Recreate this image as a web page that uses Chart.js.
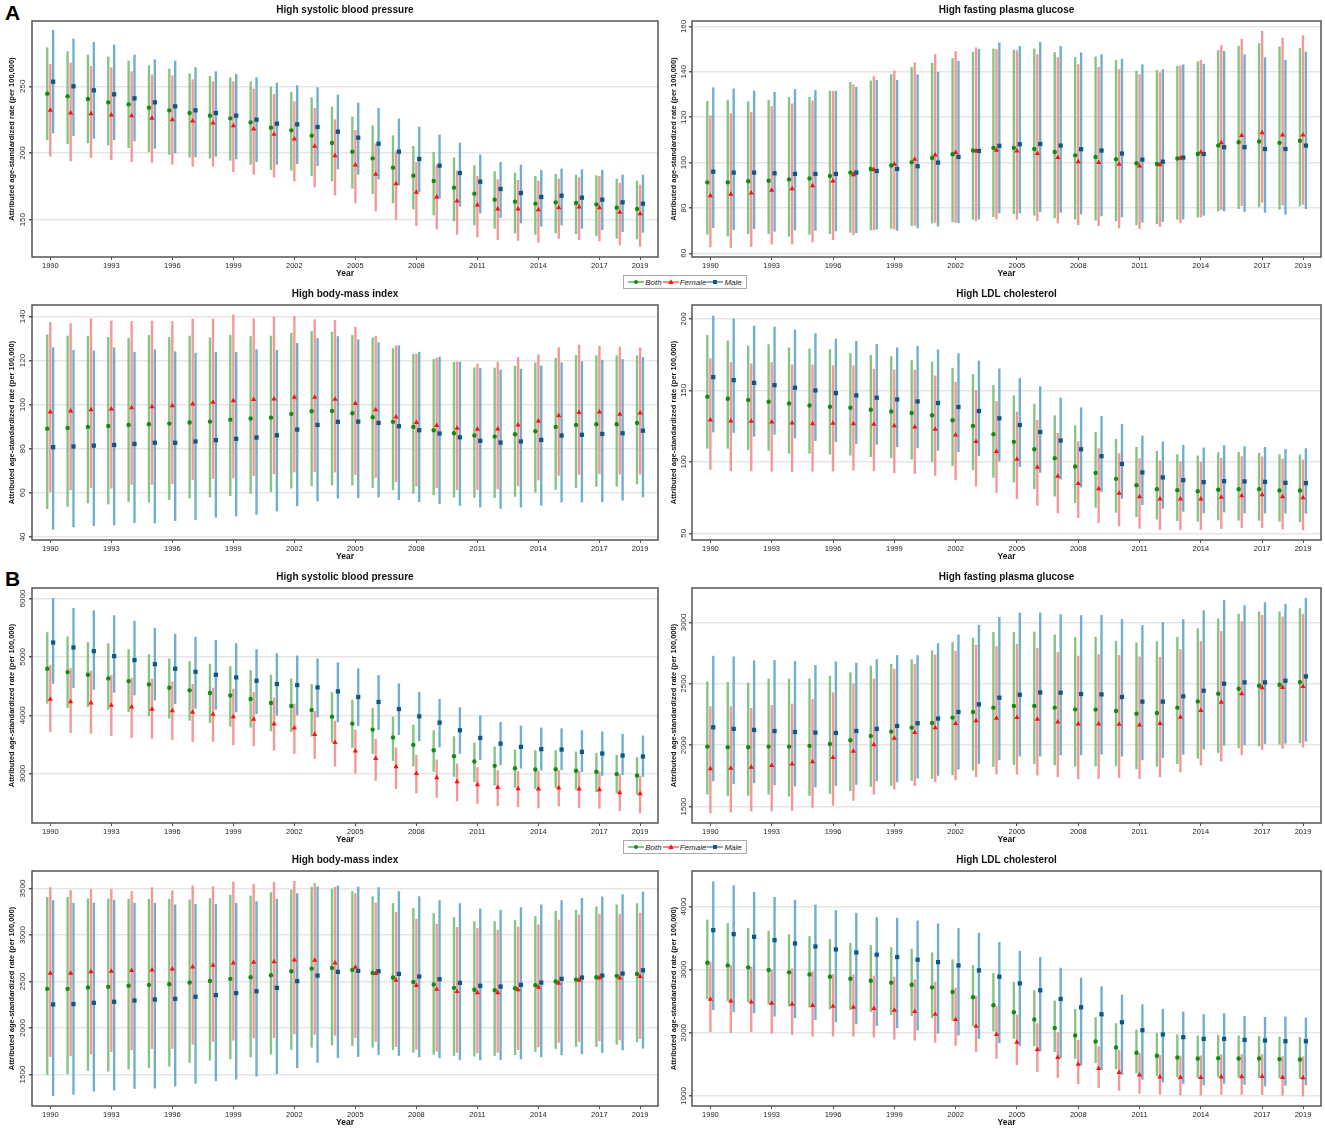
<!DOCTYPE html>
<html>
<head>
<meta charset="utf-8">
<title>Attributed age-standardized rates, 1990-2019</title>
<script src="https://cdn.jsdelivr.net/npm/chart.js@4.4.1/dist/chart.umd.min.js"></script>
<style>
  body { margin: 0; background: #fff; width: 1325px; height: 1133px; position: relative; overflow: hidden;
         font-family: 'Liberation Sans', Arial, sans-serif; }
  .panel { position: absolute; }
  .tag { position: absolute; left: 5px; font-weight: bold; font-size: 21px; line-height: 21px; color: #000; }
  .legend { position: absolute; left: 623px; width: 122px; height: 12px; border: 1px solid #aaa; background: #fff;
            z-index: 5; font-size: 8px; font-style: italic; color: #222; display: flex; align-items: center;
            justify-content: center; gap: 1px; }
  .legend svg { display: block; }
</style>
</head>
<body>

<div class="tag" style="top:2px">A</div>
<div class="tag" style="top:568px">B</div>

<script>
const years = [1990, 1991, 1992, 1993, 1994, 1995, 1996, 1997, 1998, 1999, 2000, 2001, 2002, 2003, 2004,
               2005, 2006, 2007, 2008, 2009, 2010, 2011, 2012, 2013, 2014, 2015, 2016, 2017, 2018, 2019];
const xTickYears = [1990, 1993, 1996, 1999, 2002, 2005, 2008, 2011, 2014, 2017, 2019];

// ---- A: high systolic blood pressure
const aSbpTicks = [150, 200, 250];
const aSbpBoth = [244.5,242.5,240.5,238,236.5,234,232,230,228,226,223,219,217,213,207.5,201,196,189,183,179,174,169.5,165,163.5,162,163,162.5,161.5,159,158];
const aSbpBothLo = [210,207,207.5,206,204,201,199,197,196,194.5,191.5,187.5,187,183,179,173.5,169.5,162.5,158,153.5,149,146,143.5,140,139,140,139.5,138,136,135.5];
const aSbpBothHi = [279,276,273.5,272,269,265.5,263,259.5,257.5,256.5,253.5,249.5,245.5,241.5,234.5,227,220.5,213,205,200.5,196.5,190.5,186,185,182.5,184,183.5,183,180.5,179];
const aSbpFemale = [232,230,229.5,228.5,228,226,225,224,222.5,220.5,218,214,210.5,205,198,191,184,177,170.5,167,164,161,158,158,157.5,159,159.5,159,155.5,154.5];
const aSbpFemaleLo = [197.5,194,196.5,195,193.5,193,191.5,190,190,186,184,182,179,174.5,168.5,162.5,156.5,150,145.5,143,139,137,135,134.5,133,136,135,134,131,130];
const aSbpFemaleHi = [266.5,267.5,265,264,261,258.5,258,255,253.5,253.5,248,244,238.5,233.5,225,217,207,201,193,191,186.5,182.5,180,179.5,179,180.5,181.5,182.5,177.5,176];
const aSbpMale = [253.5,250,247,244,241,238,235,232,230,228,225,222,221.5,219.5,216,211.5,207,201,195.5,190.5,185,178.5,173,170,167,168,166.5,165,163,162];
const aSbpMaleLo = [215,213,211,210,209,203.5,200,197,197.5,195.5,193.5,191.5,192,190.5,188,184,180.5,176,171,166,160,155,151.5,147.5,145,146,143.5,142.5,141,140.5];
const aSbpMaleHi = [292,285.5,283,281,273.5,270,269,264,261,259,256.5,252.5,250.5,249,243.5,237.5,233.5,225.5,219.5,213.5,207.5,198.5,193,191,187,188,187.5,187,183.5,183.5];

// ---- A: high fasting plasma glucose
const aFpgTicks = [60, 80, 100, 120, 140, 160];
const aFpgBoth = [91.3,91.3,91.8,92,92.6,93,94.1,95.6,97.2,98.7,100.1,102,103.7,105.3,106.5,106.5,106,104.7,103.2,102.5,101.5,99.7,99.4,101.8,103.8,107.5,109,109.3,108.7,109.6];
const aFpgBothLo = [68.4,67.6,68.7,68.7,67.5,68.4,68.7,69.3,70.3,71,72.2,73.4,73.8,75,76.2,77.5,76.8,75.6,75.1,74.6,74.3,72.6,73.1,75,76,78.7,79.7,80.4,79.4,80.9];
const aFpgBothHi = [127,127.5,126.8,127.5,128.7,128.8,131.5,135.4,136,138.8,142,143.8,145.9,148.7,150.1,149.6,150.1,148.5,146.3,146.6,145,140.3,140.6,142.5,144.4,149.4,151.3,152.5,151,150.3];
const aFpgFemale = [85.4,86,86.6,87.8,88.5,89.8,91.9,94.6,96.9,99.3,101.5,103.4,104.4,105.1,105.4,105.1,104,102.2,100.4,100,99.3,98.5,99,101.9,104.6,108.7,111.9,113.2,112.2,112.2];
const aFpgFemaleLo = [62.8,62.6,63,64.1,64.1,65,66,68.2,70.3,70.7,72.4,73.7,73.7,74.4,75.1,75,74.4,73.4,72.6,72.2,71.2,70.9,71.8,73.5,76,79.3,81,82.5,81.3,81.6];
const aFpgFemaleHi = [120.7,121.6,122.2,124.7,125.9,127.2,131.5,134.3,137.9,140.4,144,147.6,149,150.6,149.9,149.3,147.6,146.3,143.2,142,141,138.8,139.6,142.6,145.1,151.6,154.4,157.9,154.9,155.9];
const aFpgMale = [96,95.6,95.6,95.3,95,95,95,95.6,96.3,97.2,98.4,100,102.5,105.1,107.4,108.1,108.2,107.5,105.9,105.3,104,101.3,100.4,102.2,103.8,106.8,106.8,106,106,107.5];
const aFpgMaleLo = [71.3,70.4,70.9,69.7,70.3,70.1,69.9,69.1,70.7,70.1,71.2,72,73.5,75.1,77.8,77.8,78.4,78.1,77.4,76.5,76,73.7,74,75.1,76.8,78.7,78.4,78.1,77.2,79.7];
const aFpgMaleHi = [133,132.5,131.6,131,132.2,131.8,131.5,133.2,136.2,136.3,138.7,139.9,144.7,149.9,152.8,151.2,153,151.2,148.4,147.6,145.6,143.1,141,143.1,143.4,149,147.6,146.3,145.1,148.7];

// ---- A: high body-mass index
const aBmiTicks = [40, 60, 80, 100, 120, 140];
const aBmiBoth = [89.1,89.4,89.9,90.3,90.8,91.1,91.4,91.9,92.3,93.2,93.7,94.1,95.8,97,97.1,96.1,94.3,92.2,89.9,88.4,87,86,85.5,86.6,87.9,89.9,90.8,91.1,91.1,91.7];
const aBmiBothLo = [52.8,53.8,55.4,54.9,56.1,55.8,56.9,57.6,58.1,58.7,59.7,60.5,62.1,63.2,63.6,63.5,62.4,61.4,59.7,59.1,58.1,57.9,57.8,58.4,60.3,61.5,62.4,62.9,63,64];
const aBmiBothHi = [131.7,131.1,131.1,130.5,130.2,131.4,130.5,131.1,130.3,131.5,130.9,131.1,132.4,133.2,132.9,131.4,130.3,125.5,122.9,120.5,119.2,116.7,116.6,117.5,119,121,122.3,122.2,122.2,122.2];
const aBmiFemale = [96.7,97.1,97.7,98,98.6,99.1,99.5,100.3,101.1,101.8,102.3,102.6,103.3,103.3,102.4,100.5,97.7,94.4,91.9,90.5,89.3,88.8,89,90.8,92.6,95,96.4,96.7,95.6,96.2];
const aBmiFemaleLo = [60.5,61.4,62.4,62,63.8,63.8,64.1,65.9,66.5,66.8,67.7,68.6,69.4,69.5,69.4,68.3,67,65,63,62.4,61.4,61.4,61.8,63.2,65.8,67.9,68.3,68.6,68.5,68.5];
const aBmiFemaleHi = [137.3,136.8,138.9,138,137.7,137.9,137.7,138.8,138.8,140.7,138.9,139.8,140,138.5,138.2,135.1,131.1,126.7,122.9,121.1,119.3,118.4,119.3,121.4,122.6,125.9,127,126.5,126.2,125.8];
const aBmiMale = [80.7,81,81.4,81.7,82.2,82.7,82.7,83.3,83.9,84.5,85.1,86.1,88.7,90.8,92.2,92.3,91.7,90.2,88.4,86.9,85.2,83.6,82.8,83.3,84,86,86.3,86.7,87,88.2];
const aBmiMaleLo = [43.4,44.5,45.1,45.4,46.5,46.3,47.4,47.8,48.9,49.5,50.2,51.7,54.1,56.3,57.6,57.8,58.1,56.9,56,55.1,54.3,53.5,52.9,53.5,54.3,55.8,55.8,56,56.7,58.1];
const aBmiMaleHi = [125.9,124.6,124.4,125.8,123.8,125,124,123.4,123.7,123.7,125,124.7,127.8,130,130.9,129.4,128.2,126.7,123.8,121.6,119.3,116.4,115.7,116.1,117.5,119,119.5,120.2,120.5,121.4];

// ---- A: high LDL cholesterol
const aLdlTicks = [50, 100, 150, 200];
const aLdlBoth = [145.6,144.2,143.3,142.1,140.9,139.5,138.6,137.9,136.5,135.3,134.2,132.6,129.1,125.1,119.3,114,108.8,102.6,96.7,92.3,88.1,83.7,80.9,80.2,79.5,80.5,80.9,80.9,80,80];
const aLdlBothLo = [109.5,109.5,108.6,108.1,106,106,105.3,104.7,103.7,102.8,101.9,100,97.2,94.4,89.1,85.8,81.2,76,71.4,68.1,64.7,61.6,59.8,58.8,58.4,59.3,59.1,59.1,58.4,58.1];
const aLdlBothHi = [188.6,184.7,181.2,182.1,179.8,179.1,178.6,176,174.6,173.7,170.9,170,165.6,161.2,153.5,146.3,140.5,132.3,125.3,120.7,115.8,110.2,107.4,105.1,104.2,106.5,106.7,106,105.1,104.9];
const aLdlFemale = [129.3,128.6,128.4,127.9,127.2,126.7,127,126.7,126.3,125.3,124.4,122.8,118.8,114.2,107.2,101.9,96.3,90,84.9,81.2,78.1,75.6,74,74,74,75.3,76.3,77,75.6,74.9];
const aLdlFemaleLo = [94.7,93.7,93.7,93.5,93,93.5,93.5,94.2,93.7,92.3,91.9,90.5,87.4,83,78.6,74.2,69.5,64.2,60.9,57.4,55.1,53.5,52.6,52.3,52.6,53.3,54,54,53,52.3];
const aLdlFemaleHi = [172.3,169.5,168.6,169.5,167.9,167.9,167.2,167.2,164.9,164.4,164.2,160.2,155.8,150,142.3,134.9,129.1,120,114.2,109.3,105.8,102.3,100.7,100,99.8,102.6,103.7,103.5,102.1,101.4];
const aLdlMale = [159.3,157.2,155.3,153.7,151.9,150,148.1,146.5,144.9,143.7,142.3,141.2,138.4,135.6,130.5,125.8,120.9,114.9,108.8,104,98.6,92.6,89.1,87.2,85.8,86.5,86.3,86,85.3,85.1];
const aLdlMaleLo = [120.9,120.5,117.9,119.3,116.7,114.9,114.2,112.8,112.3,110.5,109.8,108.1,107,104.2,100.5,96.7,92.6,87.9,82.3,79.3,74.4,70,67.4,65.3,64.2,64.9,64.2,64.2,64.2,64];
const aLdlMaleHi = [202.1,200,195.1,194.4,192.3,189.8,186,184.4,182.3,179.8,180.9,178.4,175.8,170.7,165.1,158.4,152.6,144.7,137.9,131.9,126.3,118.1,114,111.6,109.8,111.4,110.7,110.2,108.8,109.3];

// ---- B: high systolic blood pressure
const bSbpTicks = [3000, 4000, 5000, 6000];
const bSbpBoth = [4797,4740,4694,4632,4586,4529,4472,4427,4381,4341,4279,4211,4159,4091,3977,3858,3755,3619,3494,3403,3300,3209,3135,3095,3073,3078,3050,3033,2993,2970];
const bSbpBothLo = [4205,4131,4148,4100,4063,3989,3949,3915,3875,3812,3795,3733,3721,3642,3539,3448,3346,3226,3129,3038,2953,2862,2805,2765,2743,2760,2731,2691,2669,2646];
const bSbpBothHi = [5417,5343,5246,5229,5127,5041,4967,4922,4876,4836,4768,4688,4626,4529,4393,4262,4120,3972,3835,3738,3636,3528,3460,3408,3397,3397,3374,3351,3317,3277];
const bSbpFemale = [4273,4233,4211,4171,4142,4102,4080,4051,4017,3977,3932,3852,3784,3670,3533,3391,3260,3118,3004,2930,2862,2811,2765,2743,2737,2754,2737,2725,2674,2657];
const bSbpFemaleLo = [3721,3704,3693,3653,3619,3607,3585,3551,3551,3494,3477,3403,3346,3260,3129,3004,2885,2743,2669,2595,2532,2492,2452,2430,2413,2447,2418,2407,2367,2327];
const bSbpFemaleHi = [4859,4802,4757,4688,4637,4620,4575,4529,4467,4450,4393,4296,4193,4068,3903,3750,3591,3443,3317,3238,3169,3107,3055,3038,3044,3055,3044,3033,2987,2959];
const bSbpMale = [5246,5161,5098,5013,4945,4876,4797,4745,4694,4649,4592,4535,4518,4478,4410,4313,4228,4108,3983,3875,3744,3613,3516,3459,3420,3414,3374,3346,3312,3294];
const bSbpMaleLo = [4546,4472,4444,4393,4347,4262,4199,4119,4102,4057,4028,4000,4006,3972,3886,3824,3755,3670,3562,3460,3346,3243,3152,3095,3061,3067,3033,2970,2982,2953];
const bSbpMaleHi = [6003,5832,5792,5707,5610,5491,5388,5337,5286,5229,5127,5058,5018,4967,4899,4797,4683,4541,4393,4273,4131,3994,3881,3818,3784,3772,3738,3716,3676,3647];

// ---- B: high fasting plasma glucose
const bFpgTicks = [1500, 2000, 2500, 3000];
const bFpgBoth = [1989,1984,1984,1989,1989,1995,2011,2041,2076,2111,2143,2181,2225,2271,2306,2319,2319,2306,2292,2290,2279,2257,2263,2306,2357,2420,2460,2485,2493,2514];
const bFpgBothLo = [1602,1591,1591,1602,1586,1591,1607,1629,1664,1672,1713,1729,1759,1797,1827,1843,1851,1840,1829,1832,1832,1808,1829,1851,1894,1940,1978,1995,2008,2019];
const bFpgBothHi = [2517,2512,2506,2539,2539,2541,2563,2590,2644,2660,2696,2769,2836,2872,2920,2918,2923,2899,2877,2880,2847,2834,2842,2880,2950,3029,3067,3086,3086,3113];
const bFpgFemale = [1808,1813,1821,1835,1848,1865,1900,1951,2005,2057,2103,2143,2176,2200,2219,2225,2211,2189,2173,2173,2171,2165,2176,2227,2282,2349,2420,2468,2471,2479];
const bFpgFemaleLo = [1448,1456,1464,1464,1469,1494,1510,1551,1602,1643,1672,1702,1718,1743,1764,1764,1756,1743,1727,1729,1737,1727,1743,1783,1838,1870,1924,1965,1973,1984];
const bFpgFemaleHi = [2314,2314,2300,2325,2336,2374,2428,2501,2539,2620,2660,2736,2766,2815,2804,2823,2790,2755,2726,2739,2731,2720,2717,2780,2845,2926,3007,3058,3045,3067];
const bFpgMale = [2146,2133,2125,2116,2108,2103,2100,2116,2133,2157,2179,2217,2271,2333,2387,2411,2430,2428,2417,2414,2393,2355,2355,2398,2444,2501,2512,2512,2525,2560];
const bFpgMaleLo = [1710,1686,1694,1678,1667,1659,1672,1681,1710,1702,1732,1754,1805,1851,1881,1911,1911,1921,1921,1927,1911,1881,1900,1927,1968,2000,2003,2014,2016,2032];
const bFpgMaleHi = [2725,2720,2688,2690,2682,2650,2679,2669,2698,2731,2731,2828,2899,2977,3042,3077,3077,3064,3056,3058,3023,2975,2999,3023,3096,3178,3137,3161,3148,3197];

// ---- B: high body-mass index
const bBmiTicks = [1500, 2000, 2500, 3000, 3500];
const bBmiBoth = [2421,2421,2436,2443,2454,2464,2471,2489,2507,2529,2546,2568,2611,2639,2646,2625,2593,2543,2496,2468,2432,2411,2407,2429,2461,2500,2521,2546,2561,2582];
const bBmiBothLo = [1500,1507,1543,1536,1557,1575,1589,1629,1654,1668,1689,1718,1768,1793,1818,1811,1793,1768,1739,1718,1704,1696,1704,1714,1746,1779,1800,1800,1825,1850];
const bBmiBothHi = [3407,3407,3389,3389,3386,3386,3386,3379,3393,3429,3421,3457,3486,3514,3496,3468,3414,3339,3289,3232,3189,3146,3146,3157,3200,3257,3268,3304,3325,3339];
const bBmiFemale = [2589,2589,2604,2611,2618,2625,2636,2657,2675,2700,2707,2714,2732,2729,2700,2654,2586,2514,2457,2418,2393,2379,2379,2411,2439,2482,2514,2539,2539,2554];
const bBmiFemaleLo = [1693,1700,1721,1746,1764,1779,1779,1825,1854,1868,1893,1896,1936,1932,1921,1896,1857,1800,1771,1750,1739,1732,1739,1768,1796,1846,1854,1861,1871,1886];
const bBmiFemaleHi = [3511,3479,3493,3493,3471,3511,3475,3529,3521,3571,3546,3568,3579,3557,3514,3446,3343,3243,3171,3118,3082,3071,3054,3086,3111,3161,3218,3225,3225,3236];
const bBmiMale = [2254,2257,2271,2282,2296,2307,2314,2336,2354,2375,2396,2432,2504,2564,2604,2614,2611,2582,2554,2525,2486,2454,2446,2464,2489,2529,2543,2564,2586,2621];
const bBmiMaleLo = [1272,1286,1321,1332,1350,1354,1375,1404,1432,1450,1482,1507,1571,1629,1682,1693,1711,1704,1689,1679,1661,1657,1661,1668,1689,1711,1721,1736,1764,1782];
const bBmiMaleHi = [3371,3343,3343,3375,3343,3343,3325,3332,3332,3343,3361,3386,3446,3518,3529,3518,3511,3468,3414,3371,3339,3282,3268,3296,3325,3371,3396,3411,3436,3464];

// ---- B: high LDL cholesterol
const bLdlTicks = [1000, 2000, 3000, 4000];
const bLdlBoth = [3111,3068,3037,2995,2958,2926,2889,2858,2826,2795,2763,2721,2647,2563,2437,2326,2211,2079,1958,1863,1768,1684,1637,1611,1595,1600,1595,1595,1584,1579];
const bLdlBothLo = [2537,2511,2489,2453,2421,2405,2379,2368,2337,2289,2274,2237,2195,2111,2026,1911,1795,1700,1595,1526,1432,1363,1321,1300,1289,1300,1295,1289,1284,1279];
const bLdlBothHi = [3789,3732,3653,3611,3558,3526,3479,3421,3384,3353,3326,3268,3158,3068,2942,2805,2668,2505,2374,2242,2147,2047,1995,1968,1953,1963,1953,1947,1937,1926];
const bLdlFemale = [2532,2505,2489,2468,2453,2432,2421,2405,2384,2358,2337,2295,2211,2105,1974,1853,1737,1611,1505,1437,1374,1332,1300,1295,1295,1300,1305,1311,1295,1290];
const bLdlFemaleLo = [2021,2005,2016,1995,1974,1947,1947,1947,1932,1900,1884,1853,1800,1705,1595,1495,1384,1289,1195,1132,1089,1042,1026,1016,1016,1026,1026,1021,1011,1000];
const bLdlFemaleHi = [3121,3068,3042,2995,3016,2974,2926,2921,2900,2884,2842,2805,2711,2584,2416,2284,2147,2005,1884,1784,1721,1679,1642,1632,1637,1658,1658,1658,1626,1621];
const bLdlMale = [3626,3563,3521,3468,3416,3368,3321,3274,3237,3200,3158,3121,3068,2989,2889,2784,2674,2537,2405,2295,2168,2042,1974,1932,1905,1905,1889,1879,1868,1868];
const bLdlMaleLo = [2368,2332,2316,2263,2237,2211,2174,2142,2116,2079,2042,1995,1963,1911,1842,1800,1711,1605,1489,1421,1342,1263,1221,1200,1174,1200,1184,1158,1168,1174];
const bLdlMaleHi = [4395,4332,4226,4147,4100,4026,3937,3895,3826,3816,3774,3726,3653,3579,3432,3295,3195,3026,2868,2732,2600,2447,2374,2332,2289,2305,2263,2247,2253,2237];

// series look: estimate point + uncertainty bar, dodged a bit around the year
const series = [
  { name: 'Both',   shift: -0.15, style: 'circle',   r: 2.2, point: '#138a13', bar: 'rgba(120,190,120,0.9)' },
  { name: 'Female', shift: 0,     style: 'triangle', r: 3.0, point: '#ff1010', bar: 'rgba(242,140,140,0.9)' },
  { name: 'Male',   shift: 0.14,  style: 'rect',     r: 3.0, point: '#0e5685', bar: 'rgba(95,165,200,0.9)' }
];

const cols = [
  { x: 0,   w: 662, axisW: 32, padR: 2, labelMid: 9 },
  { x: 662, w: 663, axisW: 30, padR: 4, labelMid: 8 }
];
const rows = [
  { top: 0,   titleH: 21 },
  { top: 283, titleH: 22 },
  { top: 566, titleH: 22 },
  { top: 849, titleH: 22 }
];
const panelH = 283;

const panels = [
  { title: 'High systolic blood pressure', col: 0, row: 0, yMin: 122, yMax: 299, ticks: aSbpTicks,
    values: [[aSbpBoth, aSbpBothLo, aSbpBothHi], [aSbpFemale, aSbpFemaleLo, aSbpFemaleHi], [aSbpMale, aSbpMaleLo, aSbpMaleHi]] },
  { title: 'High fasting plasma glucose', col: 1, row: 0, yMin: 58.4, yMax: 162.4, ticks: aFpgTicks,
    values: [[aFpgBoth, aFpgBothLo, aFpgBothHi], [aFpgFemale, aFpgFemaleLo, aFpgFemaleHi], [aFpgMale, aFpgMaleLo, aFpgMaleHi]] },
  { title: 'High body-mass index', col: 0, row: 1, yMin: 38.6, yMax: 145.2, ticks: aBmiTicks,
    values: [[aBmiBoth, aBmiBothLo, aBmiBothHi], [aBmiFemale, aBmiFemaleLo, aBmiFemaleHi], [aBmiMale, aBmiMaleLo, aBmiMaleHi]] },
  { title: 'High LDL cholesterol', col: 1, row: 1, yMin: 45.3, yMax: 209.8, ticks: aLdlTicks,
    values: [[aLdlBoth, aLdlBothLo, aLdlBothHi], [aLdlFemale, aLdlFemaleLo, aLdlFemaleHi], [aLdlMale, aLdlMaleLo, aLdlMaleHi]] },
  { title: 'High systolic blood pressure', col: 0, row: 2, yMin: 2156, yMax: 6180, ticks: bSbpTicks,
    values: [[bSbpBoth, bSbpBothLo, bSbpBothHi], [bSbpFemale, bSbpFemaleLo, bSbpFemaleHi], [bSbpMale, bSbpMaleLo, bSbpMaleHi]] },
  { title: 'High fasting plasma glucose', col: 1, row: 2, yMin: 1367, yMax: 3280, ticks: bFpgTicks,
    values: [[bFpgBoth, bFpgBothLo, bFpgBothHi], [bFpgFemale, bFpgFemaleLo, bFpgFemaleHi], [bFpgMale, bFpgMaleLo, bFpgMaleHi]] },
  { title: 'High body-mass index', col: 0, row: 3, yMin: 1161, yMax: 3689, ticks: bBmiTicks,
    values: [[bBmiBoth, bBmiBothLo, bBmiBothHi], [bBmiFemale, bBmiFemaleLo, bBmiFemaleHi], [bBmiMale, bBmiMaleLo, bBmiMaleHi]] },
  { title: 'High LDL cholesterol', col: 1, row: 3, yMin: 842, yMax: 4563, ticks: bLdlTicks,
    values: [[bLdlBoth, bLdlBothLo, bLdlBothHi], [bLdlFemale, bLdlFemaleLo, bLdlFemaleHi], [bLdlMale, bLdlMaleLo, bLdlMaleHi]] }
];

Chart.defaults.font.family = "'Liberation Sans', Arial, sans-serif";

// box around the plot area, like the ggplot panel border
const frame = {
  id: 'frame',
  afterDraw(chart) {
    const { ctx, chartArea: a } = chart;
    ctx.save();
    ctx.strokeStyle = '#555';
    ctx.lineWidth = 1.5;
    ctx.strokeRect(a.left, a.top, a.right - a.left, a.bottom - a.top);
    ctx.restore();
  }
};

function makePanel(p) {
  const col = cols[p.col], row = rows[p.row];
  const box = document.createElement('div');
  box.className = 'panel';
  box.style.left = col.x + 'px';
  box.style.top = row.top + 'px';
  box.style.width = col.w + 'px';
  box.style.height = panelH + 'px';
  const cv = document.createElement('canvas');
  box.appendChild(cv);
  document.body.appendChild(box);

  // rotated tick labels get centred on (axis - labelMid); chart.js centres on the widest label
  const digits = Math.max(...p.ticks.map(t => String(t).length));
  const tickPad = col.labelMid - 3 - digits * 4.45 / 2;

  const datasets = [];
  series.forEach((s, k) => {
    const [mid, lo, hi] = p.values[k];
    datasets.push({
      type: 'bar',
      label: s.name + ' UI',
      data: years.map((yr, i) => ({ x: yr + s.shift, y: [lo[i], hi[i]] })),
      backgroundColor: s.bar,
      barThickness: 1.7,
      grouped: false,
      order: 2
    });
    datasets.push({
      type: 'line',
      label: s.name,
      data: years.map((yr, i) => ({ x: yr + s.shift, y: mid[i] })),
      showLine: false,
      pointStyle: s.style,
      pointRadius: s.r,
      pointBackgroundColor: s.point,
      pointBorderColor: s.point,
      pointBorderWidth: 0,
      order: 1
    });
  });

  new Chart(cv, {
    type: 'bar',
    data: { datasets },
    plugins: [frame],
    options: {
      responsive: true,
      maintainAspectRatio: false,
      animation: false,
      layout: { padding: { left: 0, right: col.padR, top: 0, bottom: 0 } },
      plugins: {
        legend: { display: false },
        tooltip: { enabled: false },
        title: {
          display: true,
          text: p.title,
          fullSize: false,
          color: '#111',
          font: { size: 10, weight: 'bold' },
          padding: { top: row.titleH - 17, bottom: 5 }
        }
      },
      scales: {
        x: {
          type: 'linear',
          min: 1989.1,
          max: 2019.88,
          offset: false,
          afterBuildTicks: s => { s.ticks = xTickYears.map(v => ({ value: v })); },
          afterFit: s => { s.height = 26; },
          grid: { drawOnChartArea: false, drawTicks: true, tickLength: 3, tickColor: '#555', offset: false },
          border: { display: false },
          ticks: { font: { size: 7.5 }, color: '#222', padding: 1, maxRotation: 0, autoSkip: false,
                   callback: v => String(v) },
          title: { display: true, text: 'Year', color: '#111', font: { size: 8.5, weight: 'bold' },
                   padding: { top: 0, bottom: 4 } }
        },
        y: {
          type: 'linear',
          min: p.yMin,
          max: p.yMax,
          afterBuildTicks: s => { s.ticks = p.ticks.map(v => ({ value: v })); },
          afterFit: s => { s.width = col.axisW; },
          grid: { color: '#e6e6e6', lineWidth: 1.5, drawTicks: true, tickLength: 3, tickColor: '#555' },
          border: { display: false },
          ticks: { font: { size: 8 }, color: '#333', padding: tickPad, minRotation: 90, maxRotation: 90,
                   crossAlign: 'center', callback: v => String(v) },
          title: { display: true, text: 'Attributed age-standardized rate (per 100,000)', color: '#111',
                   font: { size: 7.5, weight: 'bold' }, padding: { top: 7, bottom: 0 } }
        }
      }
    }
  });
}

panels.forEach(makePanel);

// shared legend boxes sitting between the panel rows
function legendKey(s) {
  let mark;
  if (s.style === 'circle') mark = `<circle cx="8" cy="4" r="2" fill="${s.point}"/>`;
  else if (s.style === 'triangle') mark = `<polygon points="8,1.2 10.6,6 5.4,6" fill="${s.point}"/>`;
  else mark = `<rect x="6" y="2" width="4" height="4" fill="${s.point}"/>`;
  return `<svg width="16" height="8"><line x1="0" y1="4" x2="16" y2="4" stroke="${s.point}" stroke-width="1"/>${mark}</svg>`;
}
[275, 840].forEach(top => {
  const lg = document.createElement('div');
  lg.className = 'legend';
  lg.style.top = top + 'px';
  lg.innerHTML = series.map(s => legendKey(s) + '<span>' + s.name + '</span>').join('');
  document.body.appendChild(lg);
});
</script>
</body>
</html>
